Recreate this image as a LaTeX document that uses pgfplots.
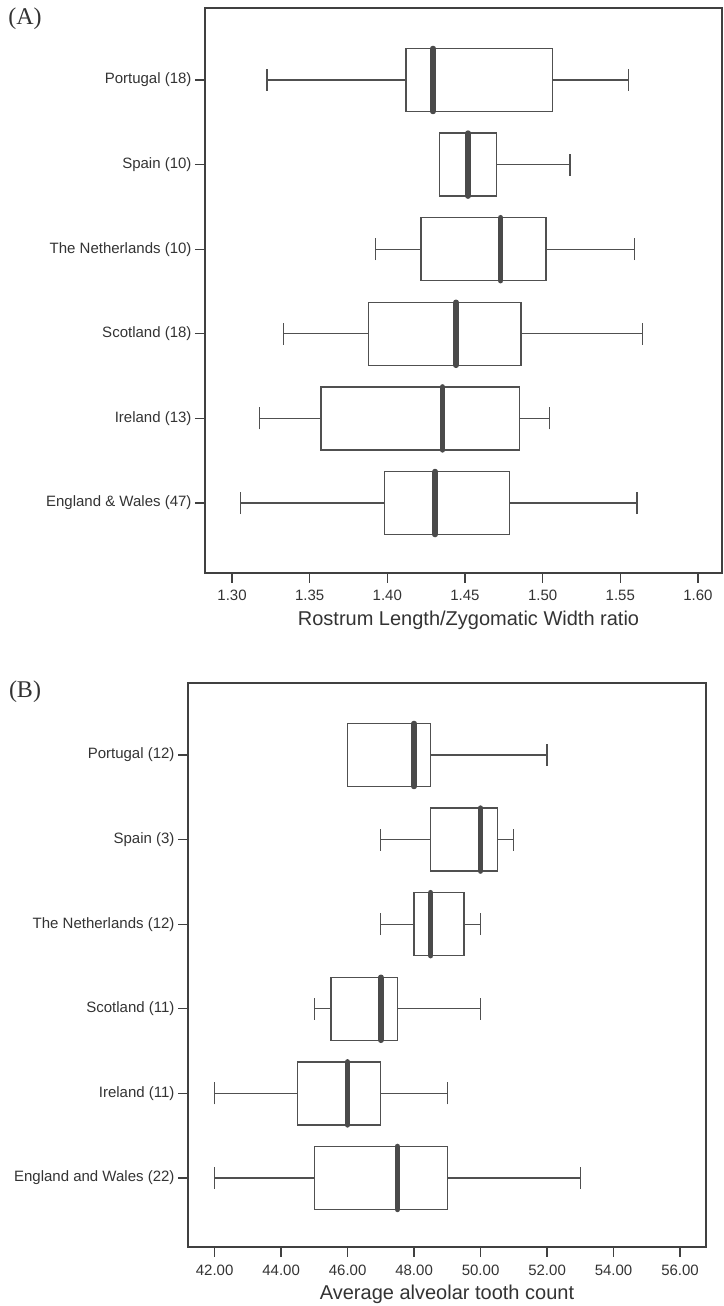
\documentclass[border=0pt]{standalone}
\usepackage{fontspec}
\setmainfont{Liberation Sans}
\newfontfamily\timesf{Liberation Serif}
\usepackage{pgfplots}
\pgfplotsset{compat=1.18}
\usepgfplotslibrary{statistics}
\definecolor{axgray}{HTML}{404040}
\definecolor{boxgray}{HTML}{505050}
\definecolor{medgray}{HTML}{4A4A4A}
\definecolor{txtgray}{HTML}{333333}
\pgfplotsset{
  myaxis/.style={
    scale only axis,
    anchor=south west,
    axis line style={draw=axgray, line width=1.3pt},
    tick align=outside,
    tick pos=left,
    major tick length=10pt,
    tick style={draw=axgray, line width=1.3pt},
    ytick={1,2,3,4,5,6},
    tick label style={font=\fontsize{15}{18}\selectfont, text=txtgray},
    /pgf/number format/assume math mode=true,
    xticklabel style={yshift=-4pt, /pgf/number format/.cd, fixed, fixed zerofill, precision=2},
    xlabel style={font=\fontsize{20}{24}\selectfont, text=txtgray, yshift=-3pt},
    boxplot/box extend=0.745,
    boxplot/whisker extend=0.26,
    boxplot/every median/.style={line width=5.5pt, draw=medgray, line cap=round},
  },
  bx/.style={draw=boxgray, line width=1.3pt, solid, fill=white},
}
\begin{document}
\begin{tikzpicture}
\useasboundingbox (0,0) rectangle (723pt,1306pt);
% Panel A
\begin{axis}[myaxis,
  at={(205pt,733pt)}, width=517pt, height=565pt,
  xmin=1.2826, xmax=1.6155, ymin=0.173, ymax=6.851,
  xtick={1.30,1.35,1.40,1.45,1.50,1.55,1.60},
  yticklabels={England \& Wales (47),Ireland (13),Scotland (18),The Netherlands (10),Spain (10),Portugal (18)},
  xlabel={Rostrum Length/Zygomatic Width ratio},
  xlabel style={xshift=5pt},
]
\addplot[bx, boxplot prepared={draw position=6, lower whisker=1.3226, lower quartile=1.4120, median=1.4294, upper quartile=1.5065, upper whisker=1.5554}] coordinates {};
\addplot[bx, boxplot prepared={draw position=5, lower whisker=1.4334, lower quartile=1.4334, median=1.4520, upper quartile=1.4703, upper whisker=1.5176}] coordinates {};
\addplot[bx, boxplot prepared={draw position=4, lower whisker=1.3926, lower quartile=1.4216, median=1.4730, upper quartile=1.5022, upper whisker=1.5590}] coordinates {};
\addplot[bx, boxplot prepared={draw position=3, lower whisker=1.3330, lower quartile=1.3879, median=1.4443, upper quartile=1.4860, upper whisker=1.5642}] coordinates {};
\addplot[bx, boxplot prepared={draw position=2, lower whisker=1.3176, lower quartile=1.3572, median=1.4355, upper quartile=1.4850, upper whisker=1.5043}] coordinates {};
\addplot[bx, boxplot prepared={draw position=1, lower whisker=1.3055, lower quartile=1.3980, median=1.4308, upper quartile=1.4786, upper whisker=1.5607}] coordinates {};
\end{axis}
% Panel B
\begin{axis}[myaxis,
  at={(188pt,59pt)}, width=518pt, height=564pt,
  xmin=41.2, xmax=56.78, ymin=0.184, ymax=6.851,
  xtick={42,44,46,48,50,52,54,56},
  yticklabels={England and Wales (22),Ireland (11),Scotland (11),The Netherlands (12),Spain (3),Portugal (12)},
  xlabel={Average alveolar tooth count},
]
\addplot[bx, boxplot prepared={draw position=6, lower whisker=46, lower quartile=46, median=48, upper quartile=48.5, upper whisker=52}] coordinates {};
\addplot[bx, boxplot prepared={draw position=5, lower whisker=47, lower quartile=48.5, median=50, upper quartile=50.5, upper whisker=51}] coordinates {};
\addplot[bx, boxplot prepared={draw position=4, lower whisker=47, lower quartile=48, median=48.5, upper quartile=49.5, upper whisker=50}] coordinates {};
\addplot[bx, boxplot prepared={draw position=3, lower whisker=45, lower quartile=45.5, median=47, upper quartile=47.5, upper whisker=50}] coordinates {};
\addplot[bx, boxplot prepared={draw position=2, lower whisker=42, lower quartile=44.5, median=46, upper quartile=47, upper whisker=49}] coordinates {};
\addplot[bx, boxplot prepared={draw position=1, lower whisker=42, lower quartile=45, median=47.5, upper quartile=49, upper whisker=53}] coordinates {};
\end{axis}
\node[text=txtgray] at (25pt,1287pt) {\timesf\fontsize{24}{24}\selectfont (A)};
\node[text=txtgray] at (25pt,614pt) {\timesf\fontsize{24}{24}\selectfont (B)};
\end{tikzpicture}
\end{document}
